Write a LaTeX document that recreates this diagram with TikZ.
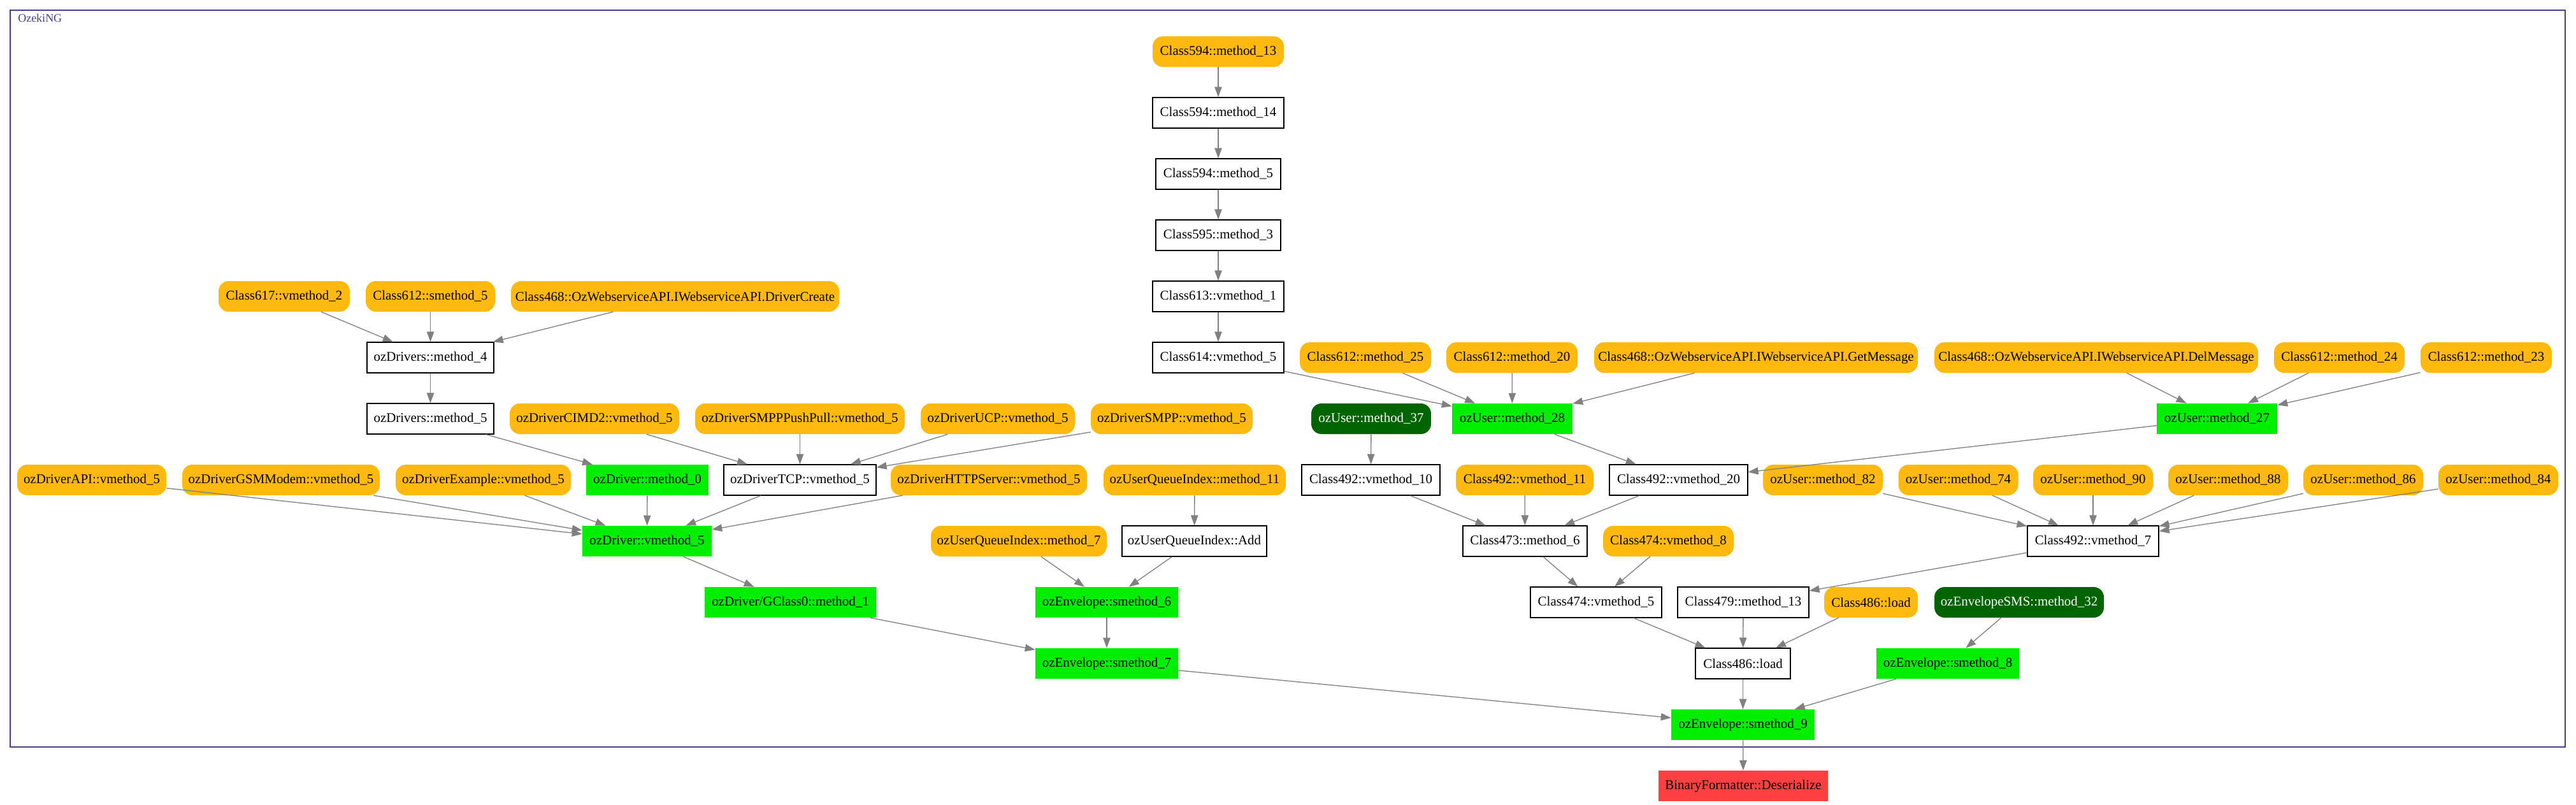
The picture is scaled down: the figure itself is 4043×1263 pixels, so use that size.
\documentclass[tikz,border=0pt]{standalone}
\usepackage{fontspec}
\setmainfont{Liberation Serif}
\usetikzlibrary{arrows.meta}
\definecolor{nodeorange}{HTML}{FFB90F}
\definecolor{nodegreen}{HTML}{00EE00}
\definecolor{nodedkgreen}{HTML}{006400}
\definecolor{nodered}{HTML}{FF4040}
\definecolor{framecol}{HTML}{483D8B}
\definecolor{edgecol}{HTML}{808080}
\newcommand{\nodefnt}{\fontsize{15.7pt}{18pt}\selectfont}
\newcommand{\labelfnt}{\fontsize{13.5pt}{16pt}\selectfont}
\tikzset{
  basenode/.style={minimum height=36pt, inner xsep=2pt, inner ysep=0pt, font=\nodefnt, anchor=center},
  orangenode/.style={basenode, fill=nodeorange, rounded corners=12pt},
  whitenode/.style={basenode, draw=black, line width=0.85pt, fill=white},
  greennode/.style={basenode, fill=nodegreen},
  dgnode/.style={basenode, fill=nodedkgreen, text=white, rounded corners=12pt},
  rednode/.style={basenode, fill=nodered},
  nw/.style={minimum width=#1*0.75pt},
  conn/.style={draw=edgecol, line width=1pt, -{Triangle[length=12pt,width=8.5pt]}},
}
\begin{document}
\begin{tikzpicture}[x=0.75pt,y=-0.75pt]
\useasboundingbox (0,0) rectangle (4043,1263);
\draw[framecol, line width=1.8pt] (16,16) rectangle (4026,1172);
\node[anchor=base west, font=\labelfnt, text=framecol, inner sep=0pt] (lbl) at (28,35) {OzekiNG};

% Row A-D
\node[orangenode, nw=206] (c594a) at (1912,81) {Class594::method\_13};
\node[whitenode, nw=206] (c594b) at (1912,177) {Class594::method\_14};
\node[whitenode, nw=196] (c594c) at (1912,273) {Class594::method\_5};
\node[whitenode, nw=196] (c595) at (1912,369) {Class595::method\_3};
% Row E
\node[orangenode, nw=206] (c617) at (446,465) {Class617::vmethod\_2};
\node[orangenode, nw=203] (c612s) at (675.5,465) {Class612::smethod\_5};
\node[orangenode, nw=515] (c468dc) at (1059.5,465) {Class468::OzWebserviceAPI.IWebserviceAPI.DriverCreate};
\node[whitenode, nw=206] (c613) at (1912,465) {Class613::vmethod\_1};
% Row F
\node[whitenode, nw=199] (drv4) at (675.5,561) {ozDrivers::method\_4};
\node[whitenode, nw=206] (c614) at (1912,561) {Class614::vmethod\_5};
\node[orangenode, nw=206] (c612a) at (2143,561) {Class612::method\_25};
\node[orangenode, nw=206] (c612b) at (2373,561) {Class612::method\_20};
\node[orangenode, nw=508] (c468gm) at (2756,561) {Class468::OzWebserviceAPI.IWebserviceAPI.GetMessage};
\node[orangenode, nw=508] (c468dm) at (3290,561) {Class468::OzWebserviceAPI.IWebserviceAPI.DelMessage};
\node[orangenode, nw=205] (c612c) at (3671.5,561) {Class612::method\_24};
\node[orangenode, nw=206] (c612d) at (3902,561) {Class612::method\_23};
% Row G
\node[whitenode, nw=199] (drv5) at (675.5,657) {ozDrivers::method\_5};
\node[orangenode, nw=266] (cimd) at (933,657) {ozDriverCIMD2::vmethod\_5};
\node[orangenode, nw=329] (smpppp) at (1255.5,657) {ozDriverSMPPPushPull::vmethod\_5};
\node[orangenode, nw=242] (ucp) at (1566,657) {ozDriverUCP::vmethod\_5};
\node[orangenode, nw=254] (smpp) at (1839,657) {ozDriverSMPP::vmethod\_5};
\node[dgnode, nw=188] (u37) at (2152,657) {ozUser::method\_37};
\node[greennode, nw=189] (u28) at (2373.5,657) {ozUser::method\_28};
\node[greennode, nw=189] (u27) at (3479.5,657) {ozUser::method\_27};
% Row H
\node[orangenode, nw=234] (api) at (144,753) {ozDriverAPI::vmethod\_5};
\node[orangenode, nw=310] (gsm) at (441,753) {ozDriverGSMModem::vmethod\_5};
\node[orangenode, nw=275] (exm) at (758.5,753) {ozDriverExample::vmethod\_5};
\node[greennode, nw=192] (dm0) at (1016,753) {ozDriver::method\_0};
\node[whitenode, nw=239] (tcp) at (1255.5,753) {ozDriverTCP::vmethod\_5};
\node[orangenode, nw=308] (http) at (1552,753) {ozDriverHTTPServer::vmethod\_5};
\node[orangenode, nw=286] (uqi11) at (1875,753) {ozUserQueueIndex::method\_11};
\node[whitenode, nw=217] (v10) at (2151.5,753) {Class492::vmethod\_10};
\node[orangenode, nw=216] (v11) at (2393,753) {Class492::vmethod\_11};
\node[whitenode, nw=217] (v20) at (2634.5,753) {Class492::vmethod\_20};
\node[orangenode, nw=188] (u82) at (2861,753) {ozUser::method\_82};
\node[orangenode, nw=188] (u74) at (3073.5,753) {ozUser::method\_74};
\node[orangenode, nw=188] (u90) at (3285,753) {ozUser::method\_90};
\node[orangenode, nw=188] (u88) at (3497,753) {ozUser::method\_88};
\node[orangenode, nw=188] (u86) at (3709,753) {ozUser::method\_86};
\node[orangenode, nw=188] (u84) at (3921,753) {ozUser::method\_84};
% Row I
\node[greennode, nw=203] (dv5) at (1015.5,849) {ozDriver::vmethod\_5};
\node[orangenode, nw=276] (uqi7) at (1599,849) {ozUserQueueIndex::method\_7};
\node[whitenode, nw=227] (uqiadd) at (1874.5,849) {ozUserQueueIndex::Add};
\node[whitenode, nw=195] (c473) at (2393.5,849) {Class473::method\_6};
\node[orangenode, nw=205] (c474v8) at (2618.5,849) {Class474::vmethod\_8};
\node[whitenode, nw=206] (v7) at (3285,849) {Class492::vmethod\_7};
% Row J
\node[greennode, nw=269] (gcl) at (1240.5,945) {ozDriver/GClass0::method\_1};
\node[greennode, nw=224] (env6) at (1737,945) {ozEnvelope::smethod\_6};
\node[whitenode, nw=206] (c474v5) at (2505,945) {Class474::vmethod\_5};
\node[whitenode, nw=206] (c479) at (2736,945) {Class479::method\_13};
\node[orangenode, nw=147] (c486o) at (2936.5,945) {Class486::load};
\node[dgnode, nw=266] (sms) at (3169,945) {ozEnvelopeSMS::method\_32};
% Row K
\node[greennode, nw=224] (env7) at (1737,1041) {ozEnvelope::smethod\_7};
\node[whitenode, nw=149] (c486) at (2735.5,1041) {Class486::load};
\node[greennode, nw=224] (env8) at (3057,1041) {ozEnvelope::smethod\_8};
% Row L, M
\node[greennode, nw=225] (env9) at (2735.5,1137) {ozEnvelope::smethod\_9};
\node[rednode, nw=266] (bf) at (2736,1233) {BinaryFormatter::Deserialize};

% Edges
\draw[conn] (c594a) -- (c594b);
\draw[conn] (c594b) -- (c594c);
\draw[conn] (c594c) -- (c595);
\draw[conn] (c595) -- (c613);
\draw[conn] (c613) -- (c614);
\draw[conn] (c614) -- (u28);
\draw[conn] (c612a) -- (u28);
\draw[conn] (c612b) -- (u28);
\draw[conn] (c468gm) -- (u28);
\draw[conn] (c617) -- (drv4);
\draw[conn] (c612s) -- (drv4);
\draw[conn] (c468dc) -- (drv4);
\draw[conn] (drv4) -- (drv5);
\draw[conn] (drv5) -- (dm0);
\draw[conn] (cimd) -- (tcp);
\draw[conn] (smpppp) -- (tcp);
\draw[conn] (ucp) -- (tcp);
\draw[conn] (smpp) -- (tcp);
\draw[conn] (api) -- (dv5);
\draw[conn] (gsm) -- (dv5);
\draw[conn] (exm) -- (dv5);
\draw[conn] (dm0) -- (dv5);
\draw[conn] (tcp) -- (dv5);
\draw[conn] (http) -- (dv5);
\draw[conn] (dv5) -- (gcl);
\draw[conn] (gcl) -- (env7);
\draw[conn] (uqi11) -- (uqiadd);
\draw[conn] (uqi7) -- (env6);
\draw[conn] (uqiadd) -- (env6);
\draw[conn] (env6) -- (env7);
\draw[conn] (env7) -- (env9);
\draw[conn] (u37) -- (v10);
\draw[conn] (u28) -- (v20);
\draw[conn] (u27) -- (v20);
\draw[conn] (c468dm) -- (u27);
\draw[conn] (c612c) -- (u27);
\draw[conn] (c612d) -- (u27);
\draw[conn] (v10) -- (c473);
\draw[conn] (v11) -- (c473);
\draw[conn] (v20) -- (c473);
\draw[conn] (u82) -- (v7);
\draw[conn] (u74) -- (v7);
\draw[conn] (u90) -- (v7);
\draw[conn] (u88) -- (v7);
\draw[conn] (u86) -- (v7);
\draw[conn] (u84) -- (v7);
\draw[conn] (c473) -- (c474v5);
\draw[conn] (c474v8) -- (c474v5);
\draw[conn] (v7) -- (c479);
\draw[conn] (c474v5) -- (c486);
\draw[conn] (c479) -- (c486);
\draw[conn] (c486o) -- (c486);
\draw[conn] (sms) -- (env8);
\draw[conn] (c486) -- (env9);
\draw[conn] (env8) -- (env9);
\draw[conn] (env9) -- (bf);
\end{tikzpicture}
\end{document}
